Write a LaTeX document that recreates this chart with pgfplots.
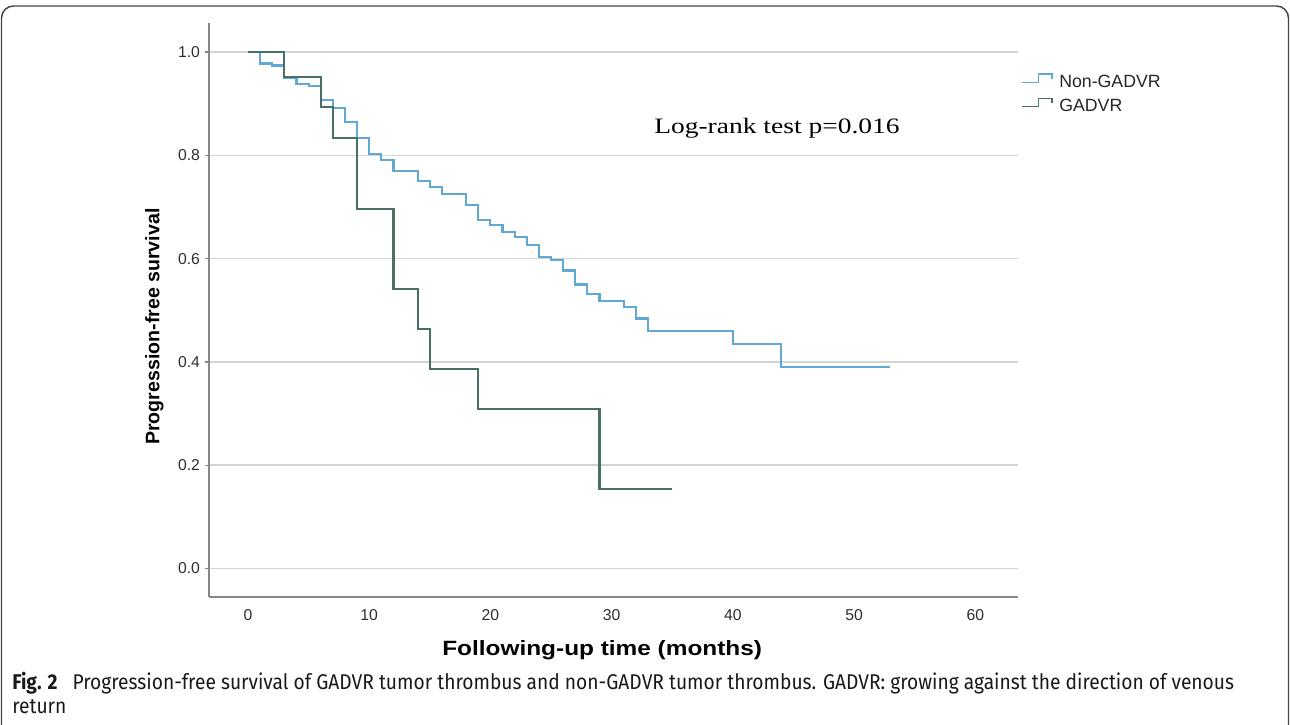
\documentclass[border=0pt]{standalone}
\usepackage{pgfplots}
\pgfplotsset{compat=1.18}
\usepackage{fontspec}
\setmainfont{Liberation Sans}
\newfontfamily\xlabfont[FakeStretch=1.18]{Liberation Sans}
\newfontfamily\logfont[FakeStretch=1.25]{Liberation Serif}
\newfontfamily\capfont[FakeStretch=0.9]{Fira Sans}

\definecolor{nongadvr}{RGB}{98,168,212}
\definecolor{gadvr}{RGB}{72,112,104}
\definecolor{gridgray}{RGB}{212,212,212}
\definecolor{spinegray}{RGB}{135,135,135}
\definecolor{framegray}{RGB}{70,70,70}

\begin{document}
\begin{tikzpicture}[x=0.75pt,y=0.75pt]
\path[use as bounding box] (0,0) rectangle (1290,725);
% figure frame
\draw[framegray, line width=1.1pt, rounded corners=9pt]
  (1.5,0) -- (1.5,719) -- (1288.5,719) -- (1288.5,0);

\begin{axis}[
  at={(156.525pt,96.225pt)}, anchor=south west,
  scale only axis, width=607.2pt, height=430pt,
  xmin=-3.24, xmax=63.55, ymin=-0.0546, ymax=1.0556,
  axis x line*=bottom, axis y line*=left,
  axis line style={-, draw=spinegray, line width=1.3pt},
  xtick={0,10,20,30,40,50,60},
  ytick={0,0.2,0.4,0.6,0.8,1},
  ymajorgrids, grid style={draw=gridgray, line width=1.1pt},
  tick align=outside, major tick length=3pt,
  xtick style={draw=none},
  ytick style={draw=spinegray, line width=1pt},
  /pgf/number format/assume math mode=true,
  yticklabel style={/pgf/number format/fixed, /pgf/number format/fixed zerofill,
    /pgf/number format/precision=1},
  ticklabel style={font=\fontsize{11.8}{13}\selectfont, text=black!82},
  xticklabel style={yshift=-3pt},
  xlabel={Following-up time (months)},
  xlabel style={at={(axis description cs:0.486,-0.1034)}, anchor=base,
    font=\xlabfont\bfseries\fontsize{15.5}{18}\selectfont},
  ylabel={Progression-free survival},
  ylabel style={at={(axis description cs:-0.067,0.471)}, anchor=center,
    font=\bfseries\fontsize{14.7}{17}\selectfont},
]
% Non-GADVR
\addplot[const plot, nongadvr, line width=1.6pt] coordinates {
  (0,1.000) (1,0.978) (2,0.974) (3,0.950) (4,0.939) (5,0.934)
  (6,0.907) (7,0.891) (8,0.865) (9,0.833) (10,0.802) (11,0.791)
  (12,0.770) (14,0.751) (15,0.739) (16,0.725) (18,0.704) (19,0.675)
  (20,0.665) (21,0.652) (22,0.642) (23,0.626) (24,0.603) (25,0.597)
  (26,0.577) (27,0.550) (28,0.531) (29,0.518) (31,0.507) (32,0.484)
  (33,0.460) (40,0.435) (44,0.391) (53,0.391)
};
% GADVR
\addplot[const plot, gadvr, line width=1.6pt] coordinates {
  (0,1.000) (3,0.951) (6,0.894) (7,0.833) (9,0.696) (12,0.542)
  (14,0.463) (15,0.386) (19,0.309) (29,0.154) (35,0.154)
};
\end{axis}

% annotation
\node[anchor=base west, inner sep=0, font=\logfont\fontsize{16.5}{19}\selectfont]
  at (654,591) {Log-rank test p=0.016};

% legend
\draw[nongadvr, line width=1.1pt] (1022,642.7) -- (1038.3,642.7) -- (1038.3,651) -- (1052,651) -- (1052,646);
\node[anchor=base west, inner sep=0, font=\fontsize{13.3}{15}\selectfont, text=black!85]
  at (1059,637.7) {Non-GADVR};
\draw[gadvr, line width=1.1pt] (1022,618.4) -- (1038.3,618.4) -- (1038.3,626.7) -- (1052,626.7) -- (1052,621.7);
\node[anchor=base west, inner sep=0, font=\fontsize{13.3}{15}\selectfont, text=black!85]
  at (1059,613.4) {GADVR};

% caption
\node[anchor=base west, inner sep=0, font=\capfont\fontsize{16}{19}\selectfont, text=black!90]
  at (12,35) {\textbf{Fig. 2}\hspace{0.7em}Progression-free survival of GADVR tumor thrombus and non-GADVR tumor thrombus. GADVR: growing against the direction of venous};
\node[anchor=base west, inner sep=0, font=\capfont\fontsize{16}{19}\selectfont, text=black!90]
  at (12,11) {return};
\end{tikzpicture}
\end{document}
